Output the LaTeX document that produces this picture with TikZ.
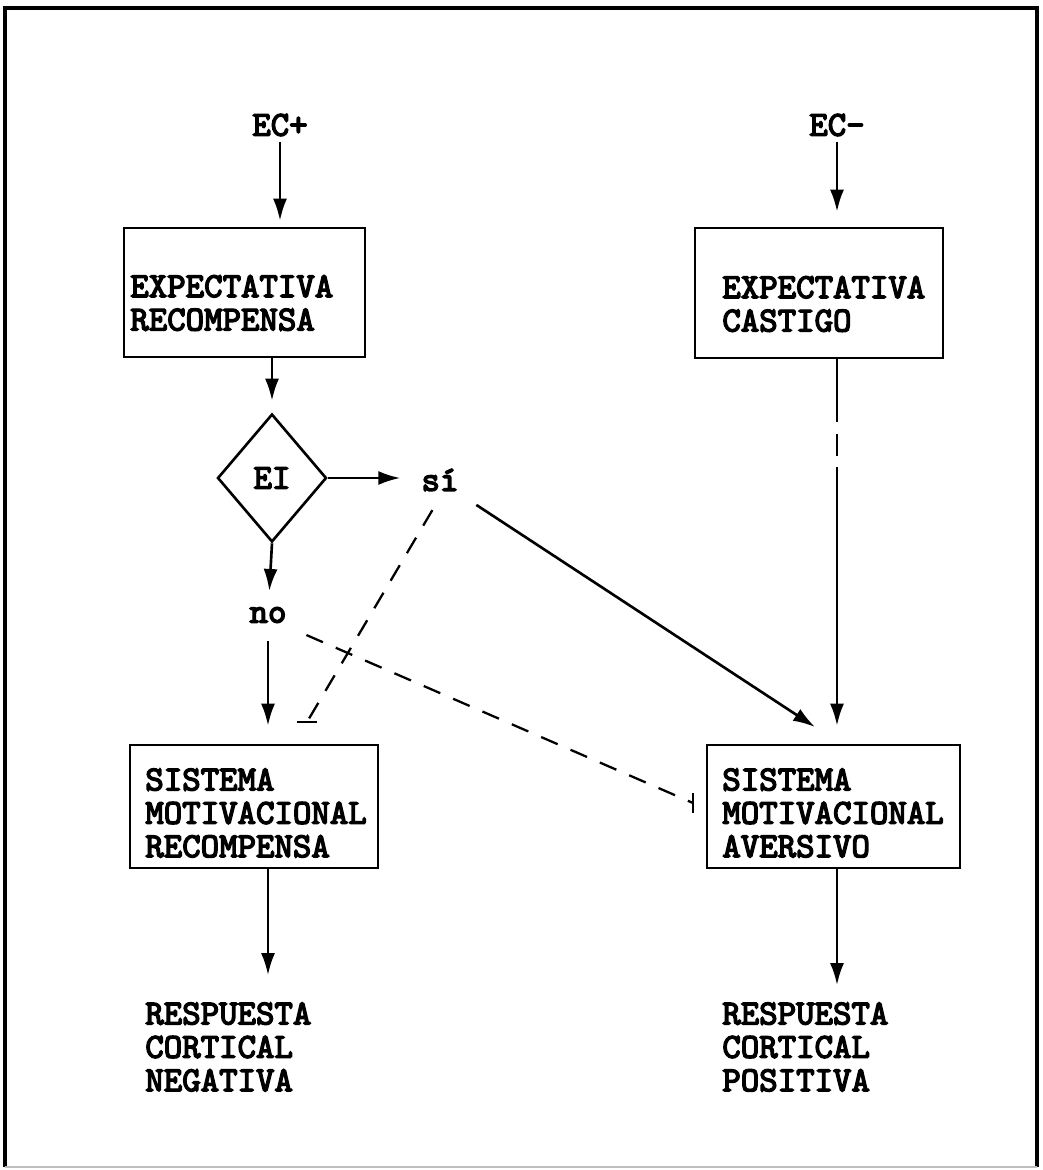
\documentclass[tikz,border=0pt]{standalone}
\usepackage{fontspec}
\newfontfamily\typew[FakeBold=4]{lmmono10-regular.otf}
\usetikzlibrary{positioning,arrows.meta,calc,shapes.geometric}

\begin{document}
\begin{tikzpicture}[
      x=0.02cm, y=-0.02cm,
      every node/.style={font=\typew\fontsize{20}{19}\selectfont},
      box/.style={draw, line width=1.5pt, inner sep=0pt},
      txt/.style={inner sep=0pt, align=left, anchor=west},
      arr/.style={-{Latex[length=0.44cm, width=0.28cm]}, line width=1.5pt},
      inh/.style={line width=1.3pt, dash pattern=on 0.36cm off 0.28cm},
      tick/.style={line width=1.5pt},
      frame/.style={line width=1.8pt},
    ]
      \useasboundingbox (0,0) rectangle (1042,1170);
      \draw[frame] (5,1167) -- (5,8) -- (1037,8) -- (1037,1167);
      \draw[line width=0.8pt, black!25] (5,1167) -- (1037,1167);

      \node (ecp) at (280,125) {EC+};
      \node (ecm) at (837,125) {EC-};

      \node[box, minimum width=4.82cm, minimum height=2.58cm] (b1) at (244.5,292.5) {};
      \node[txt] (t1) at (130,303) {EXPECTATIVA\\RECOMPENSA};
      \node[box, minimum width=4.96cm, minimum height=2.6cm] (b2) at (819,293) {};
      \node[txt] (t2) at (722,304) {EXPECTATIVA\\CASTIGO};

      \node[diamond, draw, line width=1.5pt, inner sep=0pt,
            minimum width=2.18cm, minimum height=2.56cm] (ei) at (272,478) {EI};
      \node (si) at (440,480) {sí};
      \node (no) at (268,615) {no};

      \node[box, minimum width=4.96cm, minimum height=2.46cm] (b3) at (254,806.5) {};
      \node[txt] (t3) at (145,813) {SISTEMA\\MOTIVACIONAL\\RECOMPENSA};
      \node[box, minimum width=5.06cm, minimum height=2.46cm] (b4) at (833.5,806.5) {};
      \node[txt] (t4) at (722,813) {SISTEMA\\MOTIVACIONAL\\AVERSIVO};

      \node[txt] (rn) at (145,1047) {RESPUESTA\\CORTICAL\\NEGATIVA};
      \node[txt] (rp) at (722,1047) {RESPUESTA\\CORTICAL\\POSITIVA};

      \coordinate (cgap) at (837,468);
      \coordinate (b4in) at (815,727);
      \coordinate (b3bar) at (307,722);
      \coordinate (b4bar) at (693,803);

      \draw[arr, shorten >=0.12cm] (ecp) -- (ecp |- b1.north);
      \draw[arr, shorten >=0.3cm] (ecm) -- (ecm |- b2.north);
      \draw[arr, shorten >=0.24cm] (b1.south -| ei.north) -- (ei.north);
      \draw[arr, shorten >=0.3cm] (ei.east) -- (ei.east -| si.west);
      \draw[arr, shorten >=0.2cm] (ei.south) -- (no);
      \draw[arr, shorten <=0.24cm, shorten >=0.36cm] (no) -- (no |- b3.north);
      \draw[arr, shorten >=0.54cm] (b3.south -| no) -- (no |- rn.north);
      \draw[arr, shorten >=0.34cm] (b4.south -| ecm) -- (ecm |- rp.north);

      \draw[line width=1.5pt, dash pattern=on 1.26cm off 0.24cm on 0.44cm off 0.22cm]
        (b2.south -| ecm) -- (cgap);
      \draw[arr, shorten >=0.36cm] (cgap) -- (cgap |- b4.north);
      \draw[arr, shorten <=0.28cm] (si.south east) -- (b4in);

      \draw[inh, shorten <=0.3cm] (si.south) -- (b3bar);
      \draw[tick] ([xshift=-0.2cm]b3bar) -- ([xshift=0.2cm]b3bar);
      \draw[inh, shorten <=0.3cm] (no.south east) -- (b4bar);
      \draw[tick] ([yshift=-0.2cm]b4bar) -- ([yshift=0.2cm]b4bar);
    \end{tikzpicture}
\end{document}
